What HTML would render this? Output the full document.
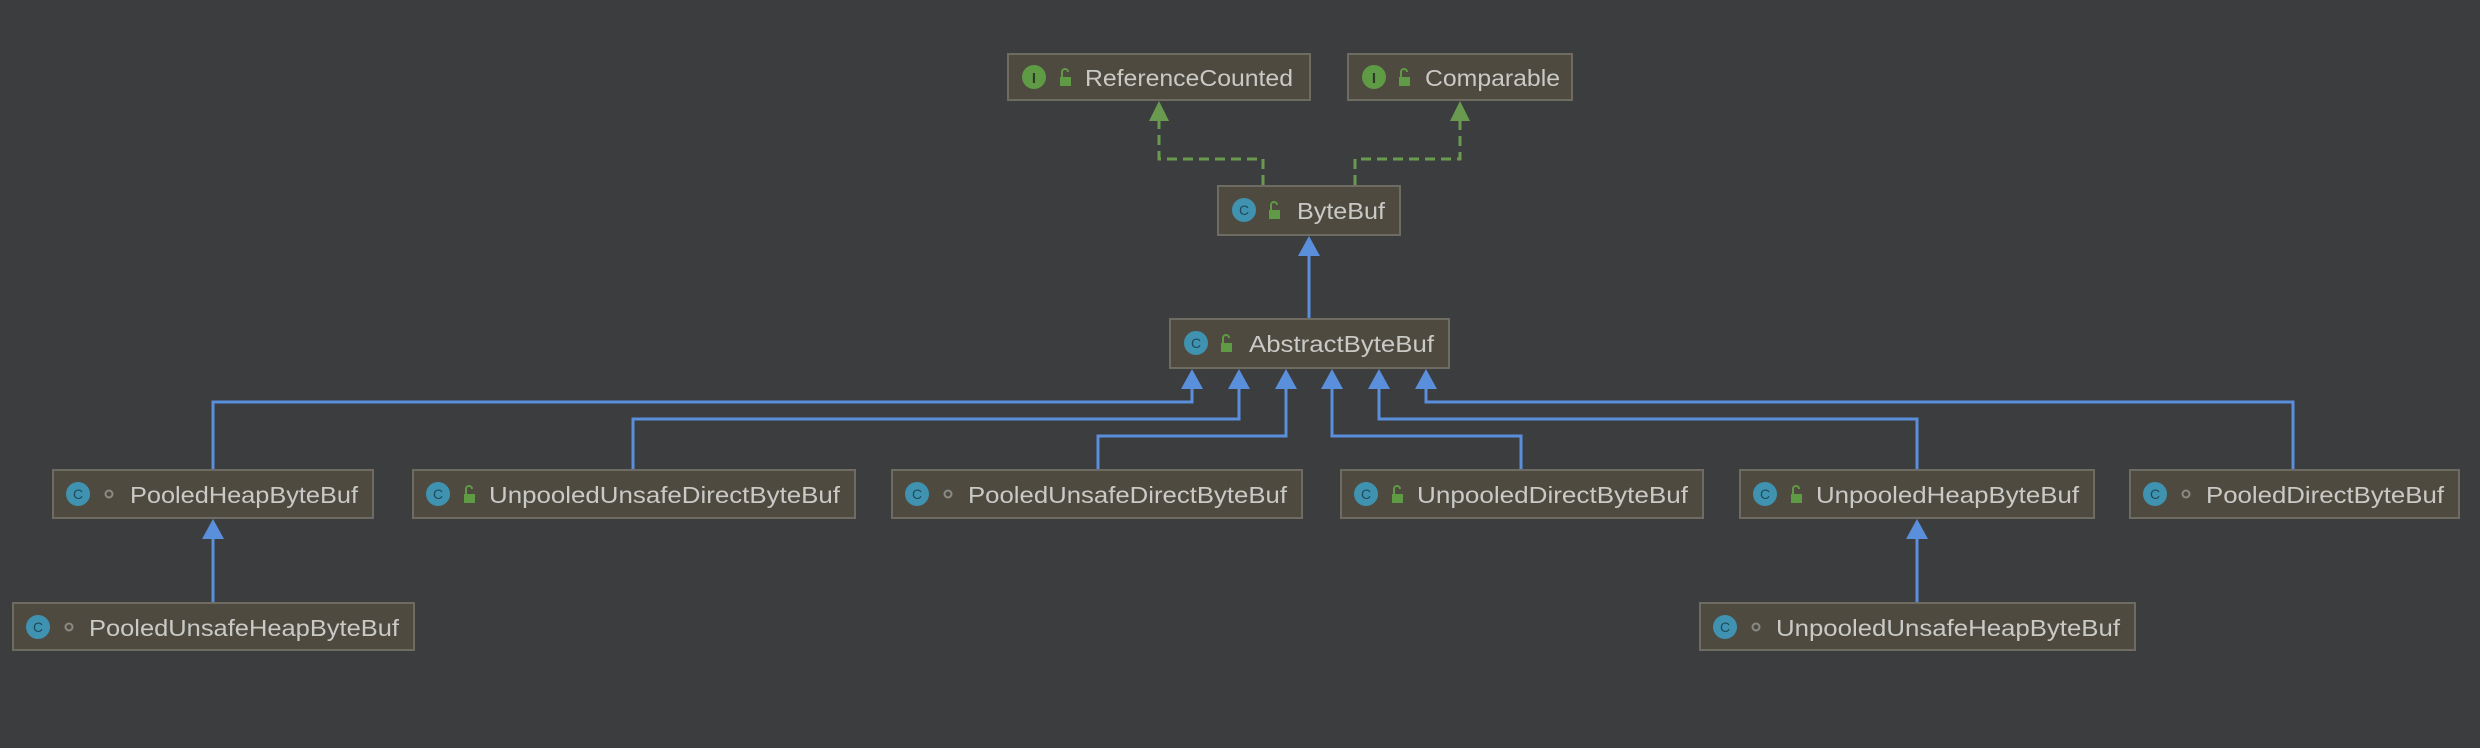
<!DOCTYPE html>
<html><head><meta charset="utf-8"><style>
html,body{margin:0;padding:0;background:#3c3d3f;width:2480px;height:748px;overflow:hidden}
svg{display:block}
text{font-family:"Liberation Sans",sans-serif;font-size:23px;fill:#c9c9c6}
</style></head><body>
<svg width="2480" height="748" viewBox="0 0 2480 748" xmlns="http://www.w3.org/2000/svg">
<defs>
<g id="lock"><rect x="-5" y="-1" width="11" height="9" fill="#5f9a45"/><path d="M-3 -1 V-6 a3 3 0 0 1 6 0" stroke="#5f9a45" stroke-width="2" fill="none"/></g>
</defs>
<!-- dashed green -->
<g stroke="#6a9a4f" stroke-width="3" stroke-dasharray="10,6" fill="none">
<path d="M1263 185 V159 H1159 V120"/>
<path d="M1355 185 V159 H1460 V120"/>
</g>
<g fill="#6a9a4f">
<polygon points="1159,101 1149,121 1169,121"/>
<polygon points="1460,101 1450,121 1470,121"/>
</g>
<!-- blue lines -->
<g stroke="#5a8fdc" stroke-width="3" fill="none">
<path d="M1309 318 V250"/>
<path d="M213 470 V402 H1192 V385"/>
<path d="M633 470 V419 H1239 V385"/>
<path d="M1098 470 V436 H1286 V385"/>
<path d="M1521 470 V436 H1332 V385"/>
<path d="M1917 470 V419 H1379 V385"/>
<path d="M2293 470 V402 H1426 V385"/>
<path d="M213 603 V535"/>
<path d="M1917 603 V535"/>
</g>
<g fill="#5a8fdc">
<polygon points="1309,236 1298,256 1320,256"/>
<polygon points="1192,369 1181,389 1203,389"/>
<polygon points="1239,369 1228,389 1250,389"/>
<polygon points="1286,369 1275,389 1297,389"/>
<polygon points="1332,369 1321,389 1343,389"/>
<polygon points="1379,369 1368,389 1390,389"/>
<polygon points="1426,369 1415,389 1437,389"/>
<polygon points="213,519 202,539 224,539"/>
<polygon points="1917,519 1906,539 1928,539"/>
</g>
<!-- boxes -->
<g stroke="#6e6c62" stroke-width="2" fill="#4e4a40">
<rect x="1008" y="54" width="302" height="46"/>
<rect x="1348" y="54" width="224" height="46"/>
<rect x="1218" y="186" width="182" height="49"/>
<rect x="1170" y="319" width="279" height="49"/>
<rect x="53" y="470" width="320" height="48"/>
<rect x="413" y="470" width="442" height="48"/>
<rect x="892" y="470" width="410" height="48"/>
<rect x="1341" y="470" width="362" height="48"/>
<rect x="1740" y="470" width="354" height="48"/>
<rect x="2130" y="470" width="329" height="48"/>
<rect x="13" y="603" width="401" height="47"/>
<rect x="1700" y="603" width="435" height="47"/>
</g>
<!-- I icons -->
<g>
<circle cx="1034" cy="77" r="12" fill="#5f9a45"/><text x="1034" y="83" text-anchor="middle" style="font-size:15px;fill:#2f3a28;font-weight:bold">I</text>
<use href="#lock" x="1065" y="78"/>
<circle cx="1374" cy="77" r="12" fill="#5f9a45"/><text x="1374" y="83" text-anchor="middle" style="font-size:15px;fill:#2f3a28;font-weight:bold">I</text>
<use href="#lock" x="1404" y="78"/>
</g>
<text x="1085" y="86" textLength="208" lengthAdjust="spacingAndGlyphs">ReferenceCounted</text>
<text x="1425" y="86" textLength="135" lengthAdjust="spacingAndGlyphs">Comparable</text>
<!-- C icons -->
<g fill="#3f93b0">
<circle cx="1244" cy="210" r="12"/><circle cx="1196" cy="343" r="12"/>
<circle cx="78" cy="494" r="12"/><circle cx="438" cy="494" r="12"/><circle cx="917" cy="494" r="12"/>
<circle cx="1366" cy="494" r="12"/><circle cx="1765" cy="494" r="12"/><circle cx="2155" cy="494" r="12"/>
<circle cx="38" cy="627" r="12"/><circle cx="1725" cy="627" r="12"/>
</g>
<g style="font-size:14px;fill:#1f4a5a" text-anchor="middle">
<text x="1244" y="215" style="font-size:14px;fill:#1f4a5a">C</text><text x="1196" y="348" style="font-size:14px;fill:#1f4a5a">C</text>
<text x="78" y="499" style="font-size:14px;fill:#1f4a5a">C</text><text x="438" y="499" style="font-size:14px;fill:#1f4a5a">C</text><text x="917" y="499" style="font-size:14px;fill:#1f4a5a">C</text>
<text x="1366" y="499" style="font-size:14px;fill:#1f4a5a">C</text><text x="1765" y="499" style="font-size:14px;fill:#1f4a5a">C</text><text x="2155" y="499" style="font-size:14px;fill:#1f4a5a">C</text>
<text x="38" y="632" style="font-size:14px;fill:#1f4a5a">C</text><text x="1725" y="632" style="font-size:14px;fill:#1f4a5a">C</text>
</g>
<!-- locks -->
<use href="#lock" x="1274" y="211"/><use href="#lock" x="1226" y="344"/>
<use href="#lock" x="469" y="495"/><use href="#lock" x="1397" y="495"/><use href="#lock" x="1796" y="495"/>
<!-- dots -->
<g fill="none" stroke="#8a8a84" stroke-width="2">
<circle cx="109" cy="494" r="3.5"/><circle cx="948" cy="494" r="3.5"/><circle cx="2186" cy="494" r="3.5"/>
<circle cx="69" cy="627" r="3.5"/><circle cx="1756" cy="627" r="3.5"/>
</g>
<text x="1297" y="219" textLength="88" lengthAdjust="spacingAndGlyphs">ByteBuf</text>
<text x="1249" y="352" textLength="185" lengthAdjust="spacingAndGlyphs">AbstractByteBuf</text>
<text x="130" y="503" textLength="228" lengthAdjust="spacingAndGlyphs">PooledHeapByteBuf</text>
<text x="489" y="503" textLength="351" lengthAdjust="spacingAndGlyphs">UnpooledUnsafeDirectByteBuf</text>
<text x="968" y="503" textLength="319" lengthAdjust="spacingAndGlyphs">PooledUnsafeDirectByteBuf</text>
<text x="1417" y="503" textLength="271" lengthAdjust="spacingAndGlyphs">UnpooledDirectByteBuf</text>
<text x="1816" y="503" textLength="263" lengthAdjust="spacingAndGlyphs">UnpooledHeapByteBuf</text>
<text x="2206" y="503" textLength="238" lengthAdjust="spacingAndGlyphs">PooledDirectByteBuf</text>
<text x="89" y="636" textLength="310" lengthAdjust="spacingAndGlyphs">PooledUnsafeHeapByteBuf</text>
<text x="1776" y="636" textLength="344" lengthAdjust="spacingAndGlyphs">UnpooledUnsafeHeapByteBuf</text>
</svg>
</body></html>
